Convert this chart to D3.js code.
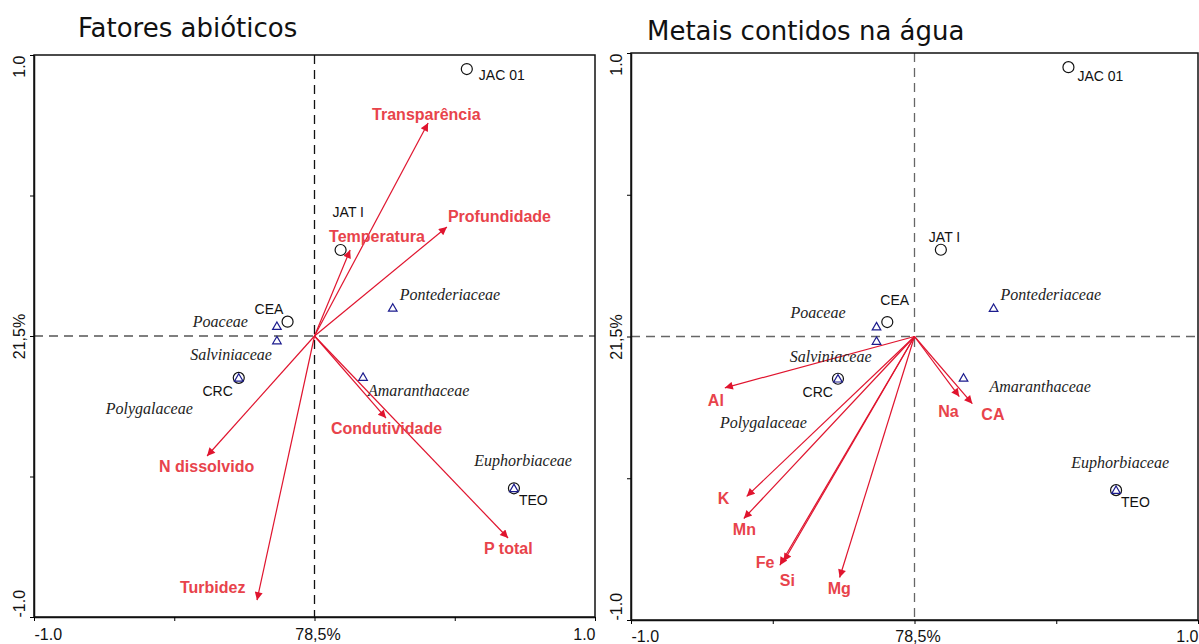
<!DOCTYPE html>
<html>
<head>
<meta charset="utf-8">
<script src="https://cdn.jsdelivr.net/npm/d3@7"></script>
<style>
  body { margin: 0; background: #fff; }
  svg { display: block; }
</style>
</head>
<body>
<svg id="chart" width="1199" height="644"></svg>
<script>
// sample sites (shared by both ordinations)
const siteNames = ["JAC 01", "JAT I", "CEA", "CRC", "TEO"];
const siteX = [0.543, 0.093, -0.096, -0.27, 0.711];
const siteY = [0.95, 0.306, 0.051, -0.149, -0.542];

// plant families
const speciesNames = ["Poaceae", "Salviniaceae", "Polygalaceae", "Pontederiaceae", "Amaranthaceae", "Euphorbiaceae"];
const speciesX = [-0.134, -0.134, -0.27, 0.279, 0.173, 0.711];
const speciesY = [0.035, -0.016, -0.149, 0.1, -0.146, -0.542];

// abiotic factors
const abioticNames = ["Transparência", "Profundidade", "Temperatura", "Condutividade", "P total", "N dissolvido", "Turbidez"];
const abioticX = [0.405, 0.472, 0.127, 0.255, 0.69, -0.383, -0.205];
const abioticY = [0.758, 0.388, 0.306, -0.292, -0.719, -0.427, -0.94];

// metals in water
const metalNames = ["Al", "K", "Mn", "Fe", "Si", "Mg", "Na", "CA"];
const metalX = [-0.669, -0.592, -0.602, -0.475, -0.461, -0.264, 0.158, 0.204];
const metalY = [-0.181, -0.564, -0.642, -0.807, -0.793, -0.85, -0.212, -0.237];

const tickValues = [-1, -0.5, 0, 0.5, 1];
const xTickLabels = ["-1.0", "", "78,5%", "", "1.0"];
const yTickLabels = ["-1.0", "", "21,5%", "", "1.0"];

// label offsets in px (layout only)
const siteOffsets = {
  left:  [[12, 11, "start"], [-8, -33, "start"], [-33, -8, "start"], [-6, 18, "end"], [5, 17, "start"]],
  right: [[9, 14, "start"], [-12, -8, "start"], [-7, -17, "start"], [-5, 18, "end"], [5, 17, "start"]]
};
const speciesOffsets = {
  left:  [[-29, 1, "end"], [-5, 20, "end"], [-46, 36, "end"], [7, -8, "start"], [5, 19, "start"], [58, -22, "end"]],
  right: [[-31, -9, "end"], [-5, 21, "end"], [-31, 49, "end"], [7, -8, "start"], [26, 14, "start"], [53, -22, "end"]]
};
const abioticOffsets = [[-56, -3], [1, -5], [-21, -8], [-55, 16], [-24, 16], [-48, 16], [-77, -7]];
const metalOffsets = [[-17, 18], [-29, 8], [-11, 16], [-24, 3], [-4, 25], [-12, 17], [-21, 20], [9, 16]];

const svg = d3.select("#chart");

// arrow head
svg.append("defs").append("marker")
  .attr("id", "head")
  .attr("viewBox", "0 0 10 10")
  .attr("refX", 10).attr("refY", 5)
  .attr("markerWidth", 11).attr("markerHeight", 8)
  .attr("markerUnits", "userSpaceOnUse")
  .attr("orient", "auto")
  .append("path")
  .attr("d", "M0,0 L10,5 L0,10 Z")
  .attr("fill", "#e0142e");

function drawPanel(p) {
  const x = d3.scaleLinear().domain([-1, 1]).range([p.x0, p.x1]);
  const y = d3.scaleLinear().domain([-1, 1]).range([p.y1, p.y0]);
  const g = svg.append("g");

  // title
  g.append("text")
    .attr("x", p.titleX).attr("y", p.titleY)
    .style("font-family", "'DejaVu Sans', sans-serif")
    .style("font-size", "26px")
    .style("fill", "#111")
    .text(p.title);

  // dashed cross lines through origin
  g.append("line")
    .attr("x1", x(-1)).attr("x2", x(1)).attr("y1", y(0)).attr("y2", y(0))
    .attr("stroke", p.hColor).attr("stroke-width", 1.3).attr("stroke-dasharray", "9,6");
  g.append("line")
    .attr("x1", x(0)).attr("x2", x(0)).attr("y1", y(1)).attr("y2", y(-1))
    .attr("stroke", p.vColor).attr("stroke-width", 1.3).attr("stroke-dasharray", "9,6");

  // box
  g.append("rect")
    .attr("x", x(-1)).attr("y", y(1))
    .attr("width", x(1) - x(-1)).attr("height", y(-1) - y(1))
    .attr("fill", "none").attr("stroke", "#111").attr("stroke-width", 1.5);

  // axes
  const xAxis = g.append("g")
    .attr("transform", "translate(0," + y(-1) + ")")
    .call(d3.axisBottom(x).tickValues(tickValues).tickSize(4).tickSizeOuter(0)
      .tickFormat((d, i) => xTickLabels[i]));
  xAxis.select(".domain").attr("stroke", "#111").attr("stroke-width", 1.5);
  xAxis.selectAll(".tick text")
    .attr("y", p.xLabelY).attr("dy", null)
    .style("font-family", "'Liberation Sans', Arial, sans-serif")
    .style("font-size", "16px").style("fill", "#111")
    .attr("text-anchor", (d, i) => i === 0 ? "start" : (i === 4 ? "end" : "middle"))
    .attr("dx", (d, i) => i === 2 ? 3 : 0);

  const yAxis = g.append("g")
    .attr("transform", "translate(" + x(-1) + ",0)")
    .call(d3.axisLeft(y).tickValues(tickValues).tickSize(4).tickSizeOuter(0)
      .tickFormat((d, i) => yTickLabels[i]));
  yAxis.select(".domain").attr("stroke", "#111").attr("stroke-width", 1.5);
  yAxis.selectAll(".tick text")
    .attr("x", null).attr("dy", null)
    .style("font-family", "'Liberation Sans', Arial, sans-serif")
    .style("font-size", "16px").style("fill", "#111")
    .attr("transform", "translate(-9,0) rotate(-90)")
    .attr("text-anchor", (d, i) => i === 0 ? "start" : (i === 4 ? "end" : "middle"));

  // arrows
  g.selectAll(".arrow")
    .data(p.vNames)
    .join("line")
    .attr("class", "arrow")
    .attr("x1", x(0)).attr("y1", y(0))
    .attr("x2", (d, i) => x(p.vX[i]))
    .attr("y2", (d, i) => y(p.vY[i]))
    .attr("stroke", "#e0142e").attr("stroke-width", 1.2)
    .attr("marker-end", "url(#head)");

  g.selectAll(".vlabel")
    .data(p.vNames)
    .join("text")
    .attr("class", "vlabel")
    .attr("x", (d, i) => x(p.vX[i]) + p.vOff[i][0])
    .attr("y", (d, i) => y(p.vY[i]) + p.vOff[i][1])
    .style("font-family", "'Liberation Sans', Arial, sans-serif")
    .style("font-weight", "bold").style("font-size", "16px")
    .style("fill", "#e8434b")
    .text(d => d);

  // site circles
  g.selectAll(".site")
    .data(siteNames)
    .join("circle")
    .attr("class", "site")
    .attr("cx", (d, i) => x(siteX[i]))
    .attr("cy", (d, i) => y(siteY[i]))
    .attr("r", 5.5)
    .attr("fill", "none").attr("stroke", "#111").attr("stroke-width", 1.2);

  g.selectAll(".slabel")
    .data(siteNames)
    .join("text")
    .attr("class", "slabel")
    .attr("x", (d, i) => x(siteX[i]) + p.sOff[i][0])
    .attr("y", (d, i) => y(siteY[i]) + p.sOff[i][1])
    .attr("text-anchor", (d, i) => p.sOff[i][2])
    .style("font-family", "'Liberation Sans', Arial, sans-serif")
    .style("font-size", "14px").style("fill", "#111")
    .text(d => d);

  // species triangles
  const tri = d3.symbol().type(d3.symbolTriangle).size(32);
  g.selectAll(".sp")
    .data(speciesNames)
    .join("path")
    .attr("class", "sp")
    .attr("d", tri)
    .attr("transform", (d, i) => "translate(" + x(speciesX[i]) + "," + (y(speciesY[i]) + 0.8) + ")")
    .attr("fill", "none").attr("stroke", "#1c1c8e").attr("stroke-width", 1.2);

  g.selectAll(".splabel")
    .data(speciesNames)
    .join("text")
    .attr("class", "splabel")
    .attr("x", (d, i) => x(speciesX[i]) + p.spOff[i][0])
    .attr("y", (d, i) => y(speciesY[i]) + p.spOff[i][1])
    .attr("text-anchor", (d, i) => p.spOff[i][2])
    .style("font-family", "'Liberation Serif', 'Times New Roman', serif")
    .style("font-style", "italic").style("font-size", "16px").style("fill", "#222")
    .text(d => d);
}

drawPanel({
  title: "Fatores abióticos", titleX: 78, titleY: 37,
  x0: 34, x1: 595, y0: 55, y1: 617,
  hColor: "#555", vColor: "#111", xLabelY: 23,
  vNames: abioticNames, vX: abioticX, vY: abioticY, vOff: abioticOffsets,
  sOff: siteOffsets.left, spOff: speciesOffsets.left
});

drawPanel({
  title: "Metais contidos na água", titleX: 647, titleY: 40,
  x0: 631, x1: 1198, y0: 53, y1: 620,
  hColor: "#666", vColor: "#666", xLabelY: 22,
  vNames: metalNames, vX: metalX, vY: metalY, vOff: metalOffsets,
  sOff: siteOffsets.right, spOff: speciesOffsets.right
});
</script>
</body>
</html>
